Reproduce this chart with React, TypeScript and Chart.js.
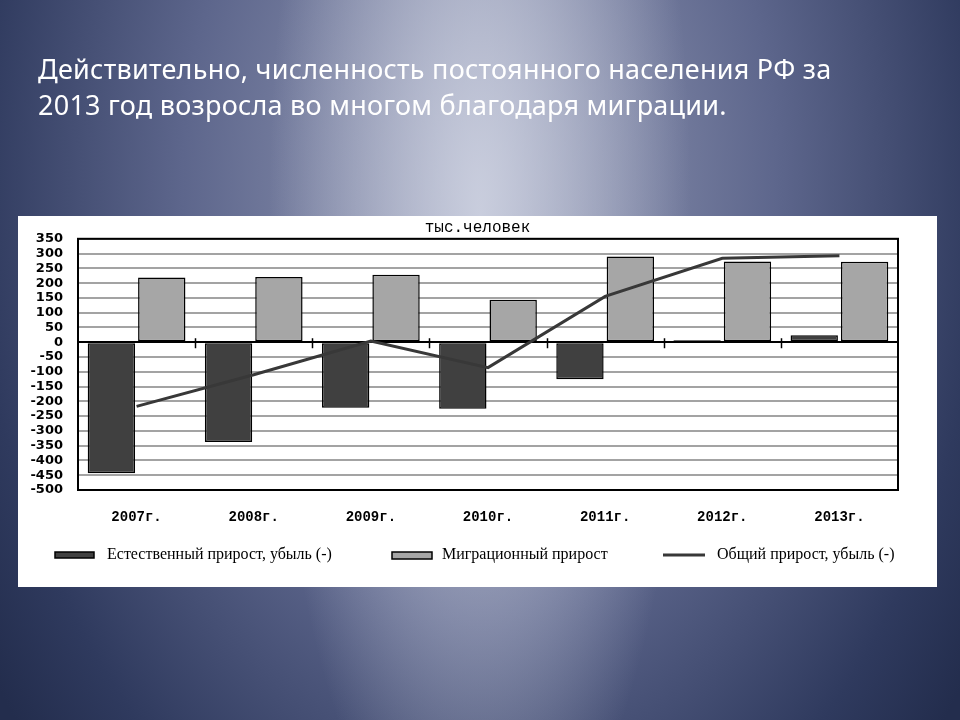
import React, { useEffect, useRef } from "react";
import { Chart, registerables } from "chart.js";

Chart.register(...registerables);

const categories = ["2007г.", "2008г.", "2009г.", "2010г.", "2011г.", "2012г.", "2013г."];
const naturalGrowth = [-443, -338, -222, -225, -125, 7, 24];
const migrationGrowth = [219, 221, 228, 144, 290, 273, 272];
const totalGrowth = [-217, -110, 4, -86, 155, 284, 293];
const seriesLabels = ["Естественный прирост, убыль (-)", "Миграционный прирост", "Общий прирост, убыль (-)"];
const unitLabel = "тыс.человек";
const yMin = -500;
const yMax = 350;
const yStep = 50;
const headingLines = [
  "Действительно, численность постоянного населения РФ за",
  "2013 год возросла во многом благодаря миграции.",
];

const DARK = "#404040";
const GRAY = "#a6a6a6";
const LINE = "#383838";

const framePlugin = {
  id: "frame",
  beforeDatasetsDraw(chart: any) {
    const { ctx, scales } = chart;
    const xs = scales.x;
    const y0 = scales.y.getPixelForValue(0);
    ctx.save();
    ctx.strokeStyle = "#000";
    ctx.lineWidth = 1.5;
    for (let i = 1; i < categories.length; i++) {
      const bx = Math.round((xs.getPixelForTick(i - 1) + xs.getPixelForTick(i)) / 2) + 0.5;
      ctx.beginPath();
      ctx.moveTo(bx, y0 - 4);
      ctx.lineTo(bx, y0 + 6);
      ctx.stroke();
    }
    ctx.restore();
  },
  afterDraw(chart: any) {
    const { ctx, chartArea } = chart;
    ctx.save();
    ctx.strokeStyle = "#000";
    ctx.lineWidth = 2;
    ctx.strokeRect(chartArea.left, chartArea.top, chartArea.right - chartArea.left, chartArea.bottom - chartArea.top);

    // unit caption
    ctx.fillStyle = "#000";
    ctx.font = "16px 'Liberation Mono'";
    ctx.textAlign = "center";
    ctx.textBaseline = "alphabetic";
    ctx.fillText(unitLabel, chart.width / 2, 16);

    // legend
    const ly = 339;
    ctx.font = "16px 'Liberation Serif'";
    ctx.textAlign = "left";
    ctx.textBaseline = "middle";
    // item 1
    ctx.fillStyle = DARK;
    ctx.fillRect(37, ly - 3, 39, 6);
    ctx.lineWidth = 1.5;
    ctx.strokeStyle = "#000";
    ctx.strokeRect(37, ly - 3, 39, 6);
    ctx.fillStyle = "#000";
    ctx.fillText(seriesLabels[0], 89, ly);
    // item 2
    ctx.fillStyle = GRAY;
    ctx.fillRect(374, ly - 3, 40, 7);
    ctx.strokeRect(374, ly - 3, 40, 7);
    ctx.fillStyle = "#000";
    ctx.fillText(seriesLabels[1], 424, ly);
    // item 3
    ctx.strokeStyle = LINE;
    ctx.lineWidth = 3;
    ctx.beginPath();
    ctx.moveTo(645, ly);
    ctx.lineTo(687, ly);
    ctx.stroke();
    ctx.fillStyle = "#000";
    ctx.fillText(seriesLabels[2], 699, ly);
    ctx.restore();
  },
};

function ChartBox() {
  const ref = useRef<HTMLCanvasElement | null>(null);
  useEffect(() => {
    if (!ref.current) return;
    const chart = new Chart(ref.current, {
      type: "bar",
      data: {
        labels: categories,
        datasets: [
          {
            type: "line",
            label: seriesLabels[2],
            data: totalGrowth,
            borderColor: LINE,
            borderWidth: 3,
            pointRadius: 0,
            tension: 0,
            fill: false,
            order: 0,
          } as any,
          {
            label: seriesLabels[0],
            data: naturalGrowth,
            backgroundColor: DARK,
            borderColor: "#000",
            borderWidth: 1.5,
            borderSkipped: false,
            categoryPercentage: 0.86,
            barPercentage: 0.94,
            order: 1,
          },
          {
            label: seriesLabels[1],
            data: migrationGrowth,
            backgroundColor: GRAY,
            borderColor: "#000",
            borderWidth: 1.5,
            borderSkipped: false,
            categoryPercentage: 0.86,
            barPercentage: 0.94,
            order: 1,
          },
        ],
      },
      options: {
        responsive: false,
        animation: false,
        devicePixelRatio: 1,
        layout: { padding: { top: 21, right: 39, left: 0, bottom: 0 } },
        plugins: {
          legend: { display: false },
          title: { display: false },
          tooltip: { enabled: false },
        },
        scales: {
          x: {
            grid: { display: false, drawTicks: false },
            border: { display: false },
            ticks: {
              color: "#000",
              font: { family: "'Liberation Mono'", size: 14, weight: "bold" },
              padding: 19,
              maxRotation: 0,
              autoSkip: false,
            },
            afterFit: (s: any) => {
              s.height = 97;
            },
          },
          y: {
            min: yMin,
            max: yMax,
            ticks: {
              stepSize: yStep,
              autoSkip: false,
              padding: 15,
              color: "#000",
              font: { family: "'DejaVu Sans'", size: 13, weight: "bold" },
            },
            grid: {
              drawTicks: false,
              lineWidth: 2,
              color: (c: any) => (c.tick && c.tick.value === 0 ? "#000" : "#a3a3a3"),
            },
            border: { color: "#000", width: 2 },
            afterFit: (s: any) => {
              s.width = 60;
            },
          },
        },
      },
      plugins: [framePlugin],
    });
    return () => chart.destroy();
  }, []);
  return (
    <div style={{ position: "absolute", left: 18, top: 216, width: 919, height: 371, background: "#fff" }}>
      <canvas ref={ref} width={919} height={371} style={{ display: "block" }} />
    </div>
  );
}

export default function App() {
  return (
    <div
      style={{
        position: "fixed",
        left: 0,
        top: 0,
        width: 960,
        height: 720,
        overflow: "hidden",
        background:
          "radial-gradient(ellipse 22% 95% at 50% 30%, rgba(210,214,228,0.85) 0%, rgba(210,214,228,0) 100%)," +
          "radial-gradient(ellipse 62% 120% at 50% 25%, #9aa0ba 0%, #5d668c 50%, #2f3a5e 85%, #232d4d 100%)",
      }}
    >
      <div
        style={{
          position: "absolute",
          left: 38,
          top: 51,
          color: "#fff",
          fontFamily: "'Noto Sans', sans-serif",
          fontSize: 27,
          letterSpacing: "0.25px",
          lineHeight: "36px",
          whiteSpace: "nowrap",
        }}
      >
        {headingLines.map((l, i) => (
          <div key={i}>{l}</div>
        ))}
      </div>
      <ChartBox />
    </div>
  );
}
